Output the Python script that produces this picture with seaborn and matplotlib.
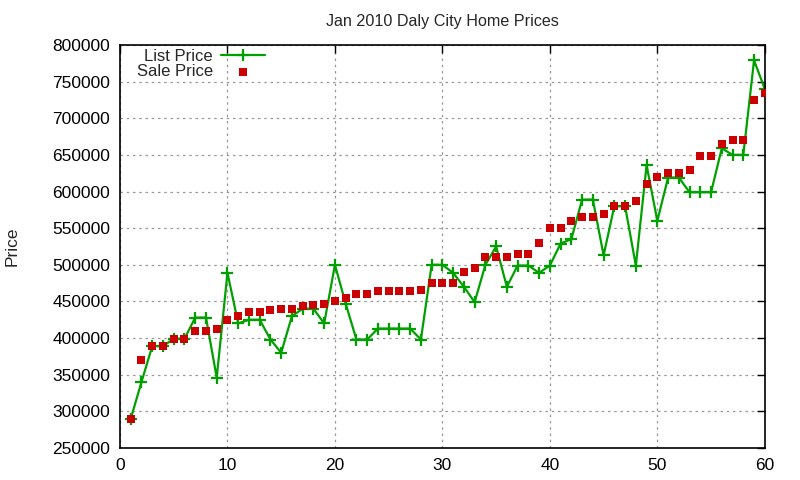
import numpy as np
import pandas as pd
import matplotlib
matplotlib.use("Agg")
import matplotlib.pyplot as plt
import seaborn as sns

listing = np.arange(1, 61)

list_price = [
    290000, 340000, 389000, 389000, 399000, 399000, 428000, 428000, 346000, 489000,
    420000, 425000, 425000, 398000, 380000, 430000, 440000, 440000, 420000, 500000,
    447000, 398000, 398000, 413000, 413000, 413000, 413000, 398000, 500000, 500000,
    489000, 470000, 449000, 500000, 525000, 470000, 499000, 499000, 489000, 499000,
    529000, 535000, 589000, 589000, 513000, 580000, 580000, 499000, 636000, 560000,
    619000, 619000, 599000, 599000, 599000, 659000, 650000, 650000, 779000, 740000,
]

sale_price = [
    289000, 370000, 389000, 389000, 399000, 399000, 410000, 410000, 412000, 425000,
    430000, 436000, 436000, 438000, 440000, 440000, 444000, 445000, 447000, 450000,
    455000, 460000, 460000, 464000, 464000, 464000, 464000, 465000, 475000, 475000,
    475000, 490000, 495000, 510000, 510000, 510000, 515000, 515000, 530000, 550000,
    550000, 560000, 565000, 565000, 570000, 580000, 580000, 587000, 610000, 620000,
    625000, 625000, 630000, 648000, 648000, 665000, 670000, 670000, 725000, 735000,
]

df = pd.DataFrame({"n": listing, "list": list_price, "sale": sale_price})

sns.set_style("white")
plt.rcParams["font.family"] = ["Liberation Sans", "DejaVu Sans"]

fig = plt.figure(figsize=(8, 4.8), dpi=100)
ax = fig.add_axes([0.15, 0.0667, 0.806, 0.8396])

sns.lineplot(data=df, x="n", y="list", ax=ax, color="#00a000", linewidth=1.6,
             marker="+", markersize=9, markeredgewidth=1.6, markeredgecolor="#00a000",
             label="List Price")
sns.scatterplot(data=df, x="n", y="sale", ax=ax, color="#cc0000", marker="s", s=38,
                linewidth=0, label="Sale Price", zorder=3)

ax.set_xlim(0, 60)
ax.set_ylim(250000, 800000)
ax.set_xticks(np.arange(0, 61, 10))
ax.set_yticks(np.arange(250000, 800001, 50000))
ax.ticklabel_format(style="plain", axis="y")
ax.tick_params(direction="in", length=6, width=1, top=True, right=True,
               labelsize=12.5, colors="black", pad=7)
for side in ax.spines.values():
    side.set_color("black")
    side.set_linewidth(1.2)
ax.grid(True, color="#999999", linestyle=(0, (2, 3)), linewidth=0.9)

ax.set_xlabel("")
ax.set_ylabel("Price", fontsize=12.5)
ax.yaxis.set_label_coords(-0.155, 0.5)
ax.set_title("Jan 2010 Daly City Home Prices", fontsize=11.6, pad=14)

ax.legend(loc="upper left", bbox_to_anchor=(0.008, 1.02), frameon=False,
          markerfirst=False, fontsize=12, handlelength=2.6, labelspacing=0.05,
          borderaxespad=0.3, handletextpad=0.5)

fig.savefig("out.png", dpi=100)
